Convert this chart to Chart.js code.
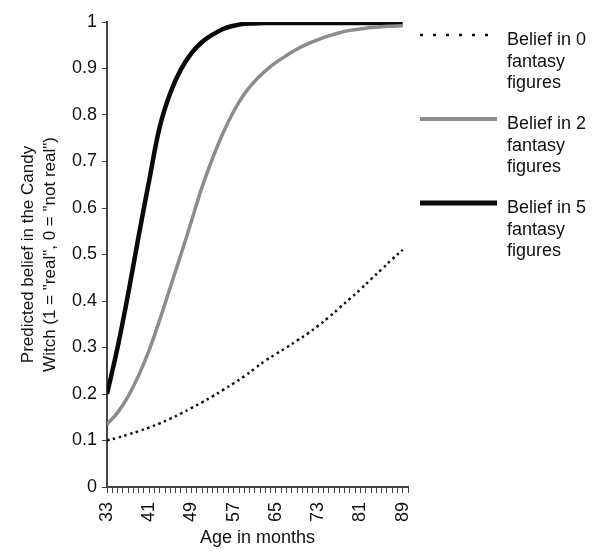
<!DOCTYPE html>
<html>
<head>
<meta charset="utf-8">
<script src="https://cdn.jsdelivr.net/npm/chart.js@4.4.0/dist/chart.umd.min.js"></script>
<style>
  body { margin: 0; background: #fff; }
  #wrap { width: 601px; height: 557px; }
</style>
</head>
<body>
<div id="wrap"><canvas id="myChart" width="601" height="557"></canvas></div>
<script>
// age in months (x), every 2 months
const ages = [33,35,37,39,41,43,45,47,49,51,53,55,57,59,61,63,65,67,69,71,73,75,77,79,81,83,85,87,89];

// predicted belief
const belief0 = [0.100,0.106,0.113,0.120,0.128,0.137,0.147,0.158,0.170,0.182,0.195,0.209,0.223,0.238,0.255,0.272,0.286,0.300,0.315,0.330,0.347,0.365,0.385,0.405,0.425,0.447,0.468,0.490,0.510];
const belief2 = [0.135,0.160,0.195,0.240,0.295,0.360,0.430,0.500,0.572,0.645,0.707,0.762,0.808,0.845,0.873,0.895,0.913,0.928,0.942,0.953,0.962,0.970,0.977,0.982,0.985,0.988,0.990,0.991,0.992];
const belief5 = [0.200,0.300,0.415,0.540,0.660,0.775,0.848,0.898,0.933,0.957,0.973,0.985,0.992,0.996,0.997,0.998,0.998,0.998,0.998,0.998,0.998,0.998,0.998,0.998,0.998,0.998,0.998,0.998,0.998];

const seriesNames = [
  ['Belief in 0', 'fantasy', 'figures'],
  ['Belief in 2', 'fantasy', 'figures'],
  ['Belief in 5', 'fantasy', 'figures']
];
const xTickLabels = [33,41,49,57,65,73,81,89];
const yTickLabels = ['0','0.1','0.2','0.3','0.4','0.5','0.6','0.7','0.8','0.9','1'];

const FONT = '"Liberation Sans", Arial, Helvetica, sans-serif';
const AXIS = '#444';

function pts(ys) {
  return ages.map((a, i) => ({x: a, y: ys[i]}));
}

// legend on the right, drawn on the canvas with wrapped text
const sideLegend = {
  id: 'sideLegend',
  afterDraw(chart) {
    const ctx = chart.ctx;
    const sampleY = [35, 119, 203];
    chart.data.datasets.forEach((ds, i) => {
      const y = sampleY[i];
      ctx.save();
      ctx.strokeStyle = ds.borderColor;
      ctx.lineWidth = i === 0 ? 2.5 : ds.borderWidth + 0.5;
      ctx.setLineDash(i === 0 ? [3, 10] : []);
      ctx.beginPath();
      ctx.moveTo(420, y);
      ctx.lineTo(i === 0 ? 490 : 497, y);
      ctx.stroke();
      ctx.restore();

      ctx.save();
      ctx.fillStyle = '#111';
      ctx.font = '18px ' + FONT;
      ctx.textBaseline = 'alphabetic';
      seriesNames[i].forEach((line, j) => {
        ctx.fillText(line, 507, y + 10 + j * 21.7);
      });
      ctx.restore();
    });
  }
};

const ctx = document.getElementById('myChart').getContext('2d');
const myChart = new Chart(ctx, {
  type: 'line',
  data: {
    datasets: [{
      label: seriesNames[0].join(' '),
      data: pts(belief0),
      borderColor: '#111',
      borderWidth: 2.5,
      borderDash: [2.5, 3.5],
      pointRadius: 0,
      tension: 0.4,
      fill: false
    }, {
      label: seriesNames[1].join(' '),
      data: pts(belief2),
      borderColor: '#8c8c8c',
      borderWidth: 3.5,
      pointRadius: 0,
      tension: 0.4,
      fill: false
    }, {
      label: seriesNames[2].join(' '),
      data: pts(belief5),
      borderColor: '#0a0a0a',
      borderWidth: 4.5,
      pointRadius: 0,
      tension: 0.4,
      fill: false
    }]
  },
  options: {
    responsive: false,
    animation: false,
    layout: { padding: { left: 0, right: 193, top: 22, bottom: 0 } },
    plugins: {
      legend: { display: false },
      tooltip: { enabled: false }
    },
    scales: {
      x: {
        type: 'linear',
        min: 33,
        max: 90,
        afterFit: (scale) => { scale.height = 70; },
        border: { display: true, color: AXIS, width: 2 },
        grid: { drawOnChartArea: false, drawTicks: true, tickLength: 6, color: AXIS, lineWidth: 1 },
        ticks: {
          stepSize: 1,
          autoSkip: false,
          minRotation: 90,
          maxRotation: 90,
          padding: 9,
          color: '#111',
          font: { family: FONT, size: 18 },
          callback: (v) => xTickLabels.includes(v) ? String(v) : ''
        },
        title: {
          display: true,
          text: 'Age in months',
          color: '#111',
          font: { family: FONT, size: 18 },
          padding: { top: 0, bottom: 8 }
        }
      },
      y: {
        min: 0,
        max: 1,
        afterFit: (scale) => { scale.width = 107; },
        border: { display: true, color: AXIS, width: 2 },
        grid: { drawOnChartArea: false, drawTicks: true, tickLength: 5, color: AXIS, lineWidth: 1 },
        ticks: {
          stepSize: 0.1,
          padding: 5,
          color: '#111',
          font: { family: FONT, size: 18 },
          callback: (v) => yTickLabels[Math.round(v * 10)]
        },
        title: {
          display: true,
          text: ['Predicted belief in the Candy', 'Witch (1 = "real", 0 = "not real")'],
          color: '#111',
          font: { family: FONT, size: 17, lineHeight: 1.3 },
          padding: { top: 17, bottom: 0 }
        }
      }
    }
  },
  plugins: [sideLegend]
});
</script>
</body>
</html>
